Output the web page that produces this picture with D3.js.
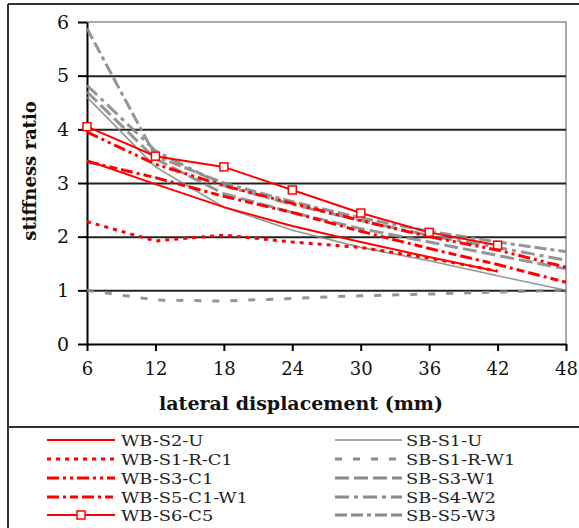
<!DOCTYPE html>
<html>
<head>
<meta charset="utf-8">
<script src="https://cdn.jsdelivr.net/npm/d3@7"></script>
<style>
  html, body { margin: 0; padding: 0; background: #fff; }
  svg { display: block; }
  text { font-family: "DejaVu Serif", "Liberation Serif", serif; }
</style>
</head>
<body>
<svg id="chart" width="579" height="528"></svg>
<script>
// lateral displacement (mm)
var disp = [6, 12, 18, 24, 30, 36, 42, 48];
var yTicks = [0, 1, 2, 3, 4, 5, 6];

// stiffness ratio
var wbS2U    = [3.42, 2.98, 2.55, 2.2, 1.9, 1.62, 1.35];
var wbS1RC1  = [2.28, 1.92, 2.03, 1.9, 1.8, 1.6, 1.36];
var wbS3C1   = [3.95, 3.35, 2.95, 2.62, 2.3, 2.0, 1.75, 1.43];
var wbS5C1W1 = [3.4, 3.1, 2.75, 2.45, 2.1, 1.78, 1.48, 1.15];
var wbS6C5   = [4.05, 3.5, 3.3, 2.87, 2.44, 2.08, 1.84];
var sbS1U    = [4.6, 3.3, 2.55, 2.12, 1.8, 1.55, 1.27, 1.0];
var sbS1RW1  = [1.0, 0.82, 0.8, 0.85, 0.9, 0.93, 0.97, 1.0];
var sbS3W1   = [4.7, 3.45, 2.8, 2.45, 2.15, 1.9, 1.65, 1.4];
var sbS4W2   = [4.82, 3.6, 2.95, 2.6, 2.3, 2.02, 1.8, 1.56];
var sbS5W3   = [5.88, 3.5, 3.0, 2.65, 2.35, 2.1, 1.9, 1.72];

var RED = "#ff0000", GRAY = "#8a8a8a";

var series = [
  { name: "WB-S2-U",     values: wbS2U,    color: RED,  width: 2,   dash: null },
  { name: "WB-S1-R-C1",  values: wbS1RC1,  color: RED,  width: 3,   dash: "4,5" },
  { name: "WB-S3-C1",    values: wbS3C1,   color: RED,  width: 3,   dash: "12,4,3,4,3,4" },
  { name: "WB-S5-C1-W1", values: wbS5C1W1, color: RED,  width: 3,   dash: "12,4,3,4,8,4" },
  { name: "WB-S6-C5",    values: wbS6C5,   color: RED,  width: 2,   dash: null, marker: true },
  { name: "SB-S1-U",     values: sbS1U,    color: GRAY, width: 1.6, dash: null },
  { name: "SB-S1-R-W1",  values: sbS1RW1,  color: GRAY, width: 3,   dash: "7,11" },
  { name: "SB-S3-W1",    values: sbS3W1,   color: GRAY, width: 3,   dash: "14,5" },
  { name: "SB-S4-W2",    values: sbS4W2,   color: GRAY, width: 3,   dash: "14,5,4,5" },
  { name: "SB-S5-W3",    values: sbS5W3,   color: GRAY, width: 3,   dash: "12,4,12,4,4,4" }
];

var svg = d3.select("#chart");

var plot = { left: 87, right: 566, top: 22, bottom: 344 };
var x = d3.scaleLinear().domain([6, 48]).range([plot.left, plot.right]);
var y = d3.scaleLinear().domain([0, 6]).range([plot.bottom, plot.top]);

// outer frame
svg.append("line").attr("x1", 8).attr("x2", 8).attr("y1", 4).attr("y2", 528)
  .attr("stroke", "#333").attr("stroke-width", 2);
svg.append("line").attr("x1", 8).attr("x2", 579).attr("y1", 4).attr("y2", 4)
  .attr("stroke", "#333").attr("stroke-width", 2);
svg.append("line").attr("x1", 8).attr("x2", 579).attr("y1", 427).attr("y2", 427)
  .attr("stroke", "#333").attr("stroke-width", 2);

// plot border top / right (gray)
svg.append("path")
  .attr("d", "M" + plot.left + "," + plot.top + "H" + plot.right + "V" + plot.bottom)
  .attr("fill", "none").attr("stroke", "#aaa").attr("stroke-width", 2);

// gridlines
var grid = svg.append("g").attr("transform", "translate(" + plot.left + ",0)")
  .call(d3.axisLeft(y).tickValues([1, 2, 3, 4, 5]).tickSize(-(plot.right - plot.left)).tickFormat(""));
grid.select(".domain").remove();
grid.selectAll("line").attr("stroke", "#222").attr("stroke-width", 2);

// y axis
var yAxis = svg.append("g").attr("transform", "translate(" + plot.left + ",0)")
  .call(d3.axisLeft(y).tickValues(yTicks).tickFormat(d3.format("d"))
    .tickSize(9).tickPadding(9).tickSizeOuter(0));
yAxis.select(".domain").attr("stroke", "#000").attr("stroke-width", 2);
yAxis.selectAll(".tick line").attr("stroke", "#000").attr("stroke-width", 2);
yAxis.selectAll("text").attr("font-family", "DejaVu Serif").attr("font-size", 19).attr("fill", "#111");

// x axis
var xAxis = svg.append("g").attr("transform", "translate(0," + plot.bottom + ")")
  .call(d3.axisBottom(x).tickValues(disp).tickFormat(d3.format("d"))
    .tickSize(7).tickPadding(11).tickSizeOuter(0));
xAxis.select(".domain").attr("stroke", "#000").attr("stroke-width", 2);
xAxis.selectAll(".tick line").attr("stroke", "#000").attr("stroke-width", 2);
xAxis.selectAll("text").attr("font-family", "DejaVu Serif").attr("font-size", 18).attr("fill", "#111");

// axis titles
svg.append("text")
  .attr("x", 301).attr("y", 410)
  .attr("text-anchor", "middle")
  .attr("font-weight", "bold").attr("font-size", 19).attr("fill", "#111")
  .text("lateral displacement (mm)");
svg.append("text")
  .attr("transform", "translate(36,171) rotate(-90)")
  .attr("text-anchor", "middle")
  .attr("font-weight", "bold").attr("font-size", 18).attr("fill", "#111")
  .text("stiffness ratio");

// series
var line = d3.line()
  .x(function(d) { return x(d[0]); })
  .y(function(d) { return y(d[1]); });

var drawOrder = series.slice().reverse();
drawOrder.forEach(function(s) {
  var pts = s.values.map(function(v, i) { return [disp[i], v]; });
  svg.append("path")
    .datum(pts)
    .attr("d", line)
    .attr("fill", "none")
    .attr("stroke", s.color)
    .attr("stroke-width", s.width)
    .attr("stroke-dasharray", s.dash)
    .attr("opacity", s.color === GRAY ? 0.9 : 1);
  if (s.marker) {
    svg.selectAll(null).data(pts).enter().append("rect")
      .attr("x", function(d) { return x(d[0]) - 4; })
      .attr("y", function(d) { return y(d[1]) - 4; })
      .attr("width", 8).attr("height", 8)
      .attr("fill", "#fff").attr("stroke", RED).attr("stroke-width", 1.5);
  }
});

// legend
var legRows = [440, 459, 478, 497, 515];
var legCols = [{ x0: 47, x1: 115, tx: 121 }, { x0: 335, x1: 402, tx: 406 }];
series.forEach(function(s, i) {
  var col = legCols[Math.floor(i / 5)], ry = legRows[i % 5];
  var g = svg.append("g");
  g.append("line")
    .attr("x1", col.x0).attr("x2", col.x1).attr("y1", ry).attr("y2", ry)
    .attr("stroke", s.color).attr("stroke-width", s.width)
    .attr("stroke-dasharray", s.dash);
  if (s.marker) {
    g.append("rect").attr("x", (col.x0 + col.x1) / 2 - 4).attr("y", ry - 4)
      .attr("width", 8).attr("height", 8)
      .attr("fill", "#fff").attr("stroke", RED).attr("stroke-width", 1.5);
  }
  // wide, short lettering like the original: scale horizontally
  g.append("text")
    .attr("transform", "translate(" + col.tx + "," + (ry + 5.5) + ") scale(1.15,1)")
    .attr("font-size", 15.5).attr("fill", "#222")
    .text(s.name);
});
</script>
</body>
</html>
